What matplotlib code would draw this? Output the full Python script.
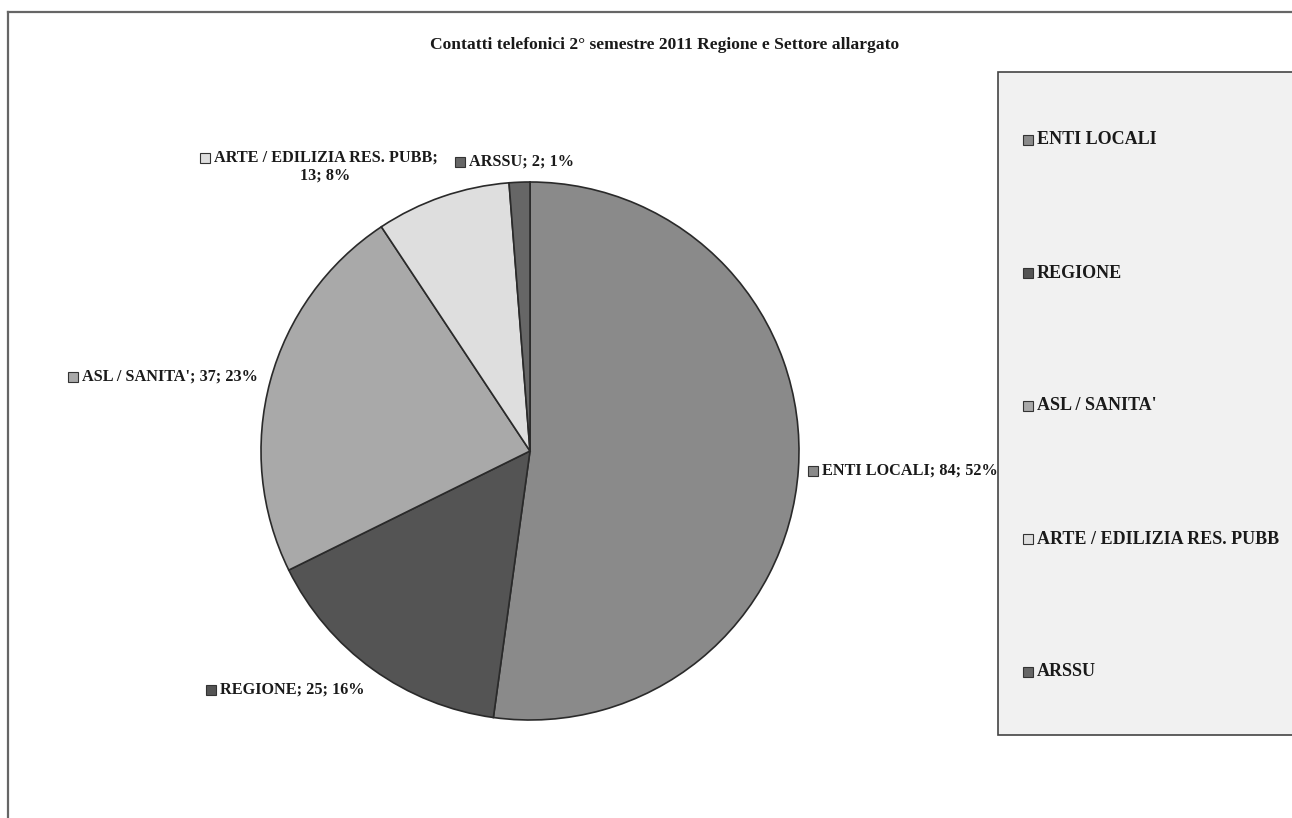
import matplotlib
matplotlib.use("Agg")
import matplotlib.pyplot as plt
from matplotlib.patches import Rectangle
from matplotlib.lines import Line2D

W, H = 1292, 818
categories = ["ENTI LOCALI", "REGIONE", "ASL / SANITA'", "ARTE / EDILIZIA RES. PUBB", "ARSSU"]
values = [84, 25, 37, 13, 2]
percents = ["52%", "16%", "23%", "8%", "1%"]
colors = ["#8a8a8a", "#545454", "#a9a9a9", "#dedede", "#666666"]
title = "Contatti telefonici 2° semestre 2011 Regione e Settore allargato"

plt.rcParams['font.family'] = ['Liberation Serif', 'DejaVu Serif']

fig = plt.figure(figsize=(W / 100, H / 100), dpi=100)
fig.patch.set_facecolor("white")


def fx(x):
    return x / W


def fy(y):
    return 1 - y / H


# outer frame (top and left edges visible)
fig.add_artist(Line2D([fx(8), fx(8)], [fy(12), fy(818)], color="#666666", lw=1.6,
                      transform=fig.transFigure))
fig.add_artist(Line2D([fx(8), fx(1292)], [fy(12), fy(12)], color="#666666", lw=1.6,
                      transform=fig.transFigure))

# pie
cx, cy, r = 530, 451, 269
ax = fig.add_axes([fx(cx - r), fy(cy + r), 2 * r / W, 2 * r / H])
ax.pie(values, colors=colors, startangle=90, counterclock=False,
       wedgeprops=dict(edgecolor="#2a2a2a", linewidth=1.2))
ax.set_xlim(-1, 1)
ax.set_ylim(-1, 1)
ax.set_aspect("auto")
ax.axis("off")

fig.text(fx(665), fy(45), title, ha="center", va="center", fontsize=12.6,
         fontweight="bold", color="#1a1a1a")

fs = 11.7
lfs = 13


def key(x, y, c, s=10):
    fig.add_artist(Rectangle((fx(x), fy(y + s / 2)), s / W, s / H, facecolor=c,
                             edgecolor="#333333", lw=0.8, transform=fig.transFigure))


# data labels: (marker x, y)
label_pos = [(808, 471), (206, 690), (68, 377), None, (455, 162)]
for i, cat in enumerate(categories):
    txt = f"{cat}; {values[i]}; {percents[i]}"
    if label_pos[i] is None:
        continue
    mx, my = label_pos[i]
    key(mx, my, colors[i])
    fig.text(fx(mx + 14), fy(my), txt, ha="left", va="center", fontsize=fs,
             fontweight="bold", color="#1a1a1a")

# ARTE label: two lines
i = 3
key(200, 158, colors[i])
fig.text(fx(214), fy(158), f"{categories[i]};", ha="left", va="center", fontsize=fs,
         fontweight="bold", color="#1a1a1a")
fig.text(fx(325), fy(176), f"{values[i]}; {percents[i]}", ha="center", va="center",
         fontsize=fs, fontweight="bold", color="#1a1a1a")

# legend box
box_top, box_bot = 72, 735
fig.add_artist(Rectangle((fx(998), fy(box_bot)), (1300 - 998) / W, (box_bot - box_top) / H,
                         facecolor="#f1f1f1", edgecolor="#444444", lw=1.2,
                         transform=fig.transFigure))
leg_y = [140, 273, 406, 539, 672]
for i, cat in enumerate(categories):
    key(1023, leg_y[i], colors[i])
    fig.text(fx(1037), fy(leg_y[i]), cat, ha="left", va="center", fontsize=lfs,
             fontweight="bold", color="#1a1a1a")

fig.savefig("out.png", dpi=100)
